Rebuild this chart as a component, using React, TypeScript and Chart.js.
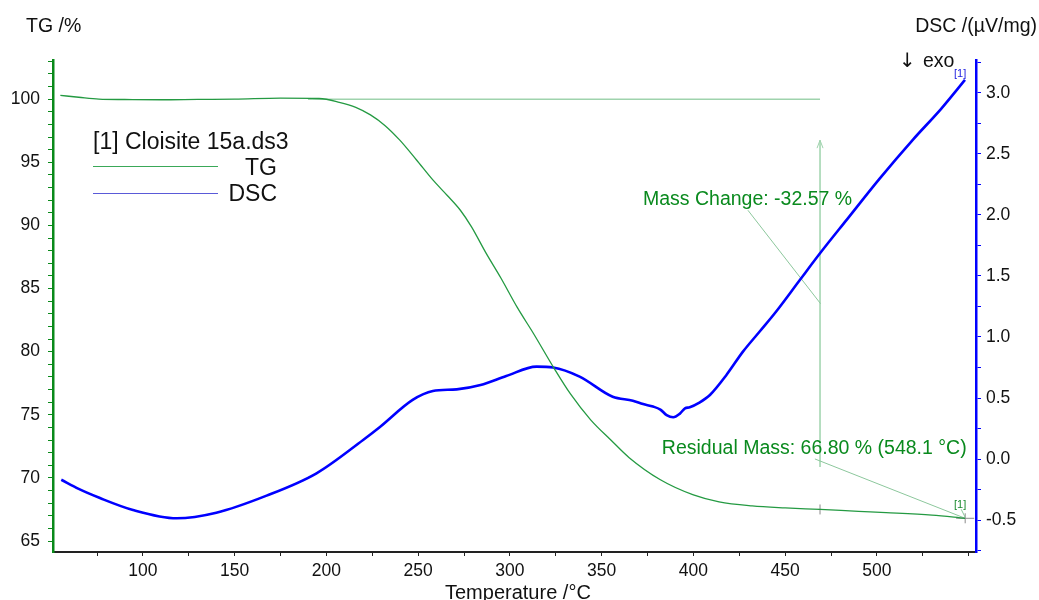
import React, { useEffect, useRef } from "react";
import { Chart, registerables } from "chart.js";

Chart.register(...registerables);

// ---------- data ----------
const TG_TEMP = [55, 65, 76, 90, 110, 130, 150, 175, 196, 207, 216, 224, 232, 240, 249, 258, 266, 273, 279, 287, 295, 304, 313, 324, 333, 344, 355, 365, 382, 400, 414, 432, 450, 469, 490, 505, 530, 548];
const TG_MASS = [100.3, 100.15, 100.0, 99.97, 99.95, 99.98, 100.0, 100.08, 100.05, 99.75, 99.35, 98.75, 97.9, 96.75, 95.2, 93.6, 92.35, 91.2, 89.9, 87.8, 85.85, 83.5, 81.4, 78.7, 76.65, 74.6, 73.0, 71.6, 69.85, 68.65, 68.1, 67.78, 67.62, 67.5, 67.35, 67.25, 67.05, 66.8];

const DSC_TEMP = [55.5, 65, 76.6, 94.6, 118.4, 140, 167.4, 194.6, 220, 229, 247, 258, 271, 284, 298, 314.5, 323.6, 338, 356, 367, 372.6, 378, 382, 385.4, 389, 392.5, 395.4, 398, 403, 409, 418, 427, 436, 445, 458, 469, 483.5, 501.6, 519.8, 535, 548];
const DSC_SIGNAL = [-0.17, -0.245, -0.32, -0.418, -0.486, -0.44, -0.3, -0.117, 0.156, 0.26, 0.484, 0.557, 0.571, 0.607, 0.68, 0.757, 0.75, 0.675, 0.51, 0.478, 0.45, 0.43, 0.405, 0.36, 0.342, 0.37, 0.415, 0.424, 0.46, 0.525, 0.689, 0.88, 1.043, 1.207, 1.467, 1.686, 1.96, 2.3, 2.62, 2.87, 3.107];

const X_LABEL_TICKS = [100, 150, 200, 250, 300, 350, 400, 450, 500];
const TG_LABEL_TICKS = [65, 70, 75, 80, 85, 90, 95, 100];
const DSC_LABEL_TICKS = [-0.5, 0, 0.5, 1, 1.5, 2, 2.5, 3];

const X_MINOR_STEP = 25;
const TG_MINOR_STEP = 1;
const DSC_MINOR_STEP = 0.25;

const X_RANGE = [51, 554];
const TG_RANGE = [64.13, 103.1];
const DSC_RANGE = [-0.762, 3.27];

// annotation values
const MASS_CHANGE_TEXT = "Mass Change: -32.57 %";
const RESIDUAL_TEXT = "Residual Mass: 66.80 % (548.1 °C)";
const STEP_TEMP = 469;
const MASS_BASE = 100;
const MASS_AT_STEP = 67.5;
const BASE_LINE_FROM = 190;
const ARROW_FROM = 70.86;
const ARROW_TO = 96.75;
const MC_LEADER = [429.7, 91.2, 469.3, 83.8];
const MC_LABEL_POS = [372.5, 91.6];
const RESIDUAL_TEMP = 548.1;
const RESIDUAL_MASS = 66.8;
const RM_LEADER = [466.2, 71.5];
const RM_LABEL_POS = [382.8, 71.87];

const FONT = 'Arial, "Liberation Sans", sans-serif';
const GREEN_AXIS = "#0a8a1a";
const TG_COLOR = "#249a42";
const DSC_COLOR = "#0000ff";
const ANNOT_LINE = "#9fd3ad";
const ANNOT_TEXT = "#0a8a1e";

function range(min: number, max: number, step: number) {
  const out: number[] = [];
  const start = Math.ceil(min / step - 1e-9) * step;
  for (let v = start; v <= max + 1e-9; v += step) out.push(Math.round(v * 1000) / 1000);
  return out;
}

function isIn(list: number[], v: number) {
  return list.some((l) => Math.abs(l - v) < 1e-6);
}

const overlayPlugin = {
  id: "overlay",
  beforeDatasetsDraw(chart: any) {
    const ctx = chart.ctx as CanvasRenderingContext2D;
    const x = chart.scales.x;
    const y = chart.scales.y;
    const px = (v: number) => x.getPixelForValue(v);
    const py = (v: number) => y.getPixelForValue(v);
    ctx.save();
    // baseline at 100 %
    ctx.strokeStyle = ANNOT_LINE;
    ctx.lineWidth = 1.5;
    ctx.beginPath();
    ctx.moveTo(px(BASE_LINE_FROM), py(MASS_BASE));
    ctx.lineTo(px(STEP_TEMP), py(MASS_BASE));
    ctx.stroke();
    // vertical arrow
    const ax = px(STEP_TEMP);
    ctx.beginPath();
    ctx.moveTo(ax, py(ARROW_FROM));
    ctx.lineTo(ax, py(ARROW_TO));
    ctx.stroke();
    ctx.lineWidth = 1;
    ctx.beginPath();
    ctx.moveTo(ax - 3, py(ARROW_TO) + 8);
    ctx.lineTo(ax, py(ARROW_TO));
    ctx.lineTo(ax + 3, py(ARROW_TO) + 8);
    ctx.stroke();
    // leaders
    ctx.strokeStyle = "#8cc79c";
    ctx.lineWidth = 1;
    ctx.beginPath();
    ctx.moveTo(px(MC_LEADER[0]), py(MC_LEADER[1]));
    ctx.lineTo(px(MC_LEADER[2]), py(MC_LEADER[3]));
    ctx.moveTo(px(RM_LEADER[0]), py(RM_LEADER[1]));
    ctx.lineTo(px(RESIDUAL_TEMP), py(RESIDUAL_MASS));
    ctx.stroke();
    // crosses
    ctx.strokeStyle = "#8a8a8a";
    ctx.lineWidth = 1;
    const sx = px(STEP_TEMP), sy = py(MASS_AT_STEP);
    const rx = px(RESIDUAL_TEMP), ry = py(RESIDUAL_MASS);
    ctx.beginPath();
    ctx.moveTo(sx, sy - 5);
    ctx.lineTo(sx, sy + 5);
    ctx.moveTo(sx - 2, sy);
    ctx.lineTo(sx + 2, sy);
    ctx.moveTo(rx, ry - 5);
    ctx.lineTo(rx, ry + 5);
    ctx.moveTo(rx - 9, ry);
    ctx.lineTo(rx + 9, ry);
    ctx.stroke();
    // small [1] markers
    ctx.font = `11px ${FONT}`;
    ctx.textAlign = "center";
    ctx.textBaseline = "alphabetic";
    ctx.fillStyle = "#1a8a2e";
    ctx.fillText("[1]", rx - 5, ry - 10);
    ctx.strokeStyle = "#8cc79c";
    ctx.beginPath();
    ctx.moveTo(rx - 4, ry - 9);
    ctx.lineTo(rx, ry - 1);
    ctx.stroke();
    ctx.fillStyle = "#2020e0";
    ctx.fillText("[1]", rx - 5, chart.scales.y2.getPixelForValue(DSC_SIGNAL[DSC_SIGNAL.length - 1]) - 3);
    // annotation text
    ctx.font = `19.5px ${FONT}`;
    ctx.textAlign = "left";
    ctx.fillStyle = ANNOT_TEXT;
    ctx.fillText(MASS_CHANGE_TEXT, px(MC_LABEL_POS[0]), py(MC_LABEL_POS[1]));
    ctx.fillText(RESIDUAL_TEXT, px(RM_LABEL_POS[0]), py(RM_LABEL_POS[1]));
    ctx.restore();
  },
  afterDraw(chart: any) {
    const ctx = chart.ctx as CanvasRenderingContext2D;
    ctx.save();
    ctx.fillStyle = "#111";
    ctx.textBaseline = "alphabetic";
    ctx.font = `19.5px ${FONT}`;
    ctx.textAlign = "left";
    ctx.fillText("TG /%", 26, 32);
    ctx.textAlign = "right";
    ctx.fillText("DSC /(µV/mg)", 1037, 32);
    ctx.textAlign = "left";
    ctx.fillText("exo", 923, 67);
    ctx.font = `20px "DejaVu Sans", sans-serif`;
    ctx.fillText("↓", 899, 67);
    ctx.font = `20px ${FONT}`;
    ctx.fillText("Temperature /°C", 445, 599);
    // legend
    ctx.font = `23px ${FONT}`;
    ctx.fillText("[1] Cloisite 15a.ds3", 93, 149);
    ctx.textAlign = "right";
    ctx.fillText("TG", 277, 175);
    ctx.fillText("DSC", 277, 201);
    ctx.lineWidth = 1.2;
    ctx.strokeStyle = "#3aa858";
    ctx.beginPath();
    ctx.moveTo(93, 166.5);
    ctx.lineTo(218, 166.5);
    ctx.stroke();
    ctx.strokeStyle = "#5a5ad8";
    ctx.beginPath();
    ctx.moveTo(93, 193.5);
    ctx.lineTo(218, 193.5);
    ctx.stroke();
    ctx.restore();
  },
};

export default function App() {
  const ref = useRef<HTMLCanvasElement | null>(null);
  useEffect(() => {
    if (!ref.current) return;
    const tickFont = { family: FONT, size: 17.5 };
    const chart = new Chart(ref.current, {
      type: "line",
      data: {
        datasets: [
          {
            label: "TG",
            data: TG_TEMP.map((t, i) => ({ x: t, y: TG_MASS[i] })),
            borderColor: TG_COLOR,
            borderWidth: 1.3,
            pointRadius: 0,
            cubicInterpolationMode: "monotone",
            yAxisID: "y",
          },
          {
            label: "DSC",
            data: DSC_TEMP.map((t, i) => ({ x: t, y: DSC_SIGNAL[i] })),
            borderColor: DSC_COLOR,
            borderWidth: 2.6,
            pointRadius: 0,
            cubicInterpolationMode: "monotone",
            yAxisID: "y2",
          },
        ],
      },
      options: {
        responsive: false,
        animation: false,
        layout: { padding: { top: 60, left: 0, right: 0, bottom: 0 } },
        plugins: { legend: { display: false }, tooltip: { enabled: false } },
        scales: {
          x: {
            type: "linear",
            min: X_RANGE[0],
            max: X_RANGE[1],
            afterBuildTicks: (s: any) => {
              s.ticks = range(X_RANGE[0], X_RANGE[1], X_MINOR_STEP).map((v) => ({ value: v }));
            },
            afterFit: (s: any) => {
              s.height = 48;
            },
            border: { color: "#222", width: 2 },
            grid: { drawOnChartArea: false, drawTicks: true, tickLength: 4, tickColor: "#222" },
            ticks: {
              autoSkip: false,
              maxRotation: 0,
              minRotation: 0,
              padding: 5,
              color: "#111",
              font: tickFont,
              callback: (v: any) => (isIn(X_LABEL_TICKS, Number(v)) ? String(v) : ""),
            },
          },
          y: {
            type: "linear",
            position: "left",
            min: TG_RANGE[0],
            max: TG_RANGE[1],
            afterBuildTicks: (s: any) => {
              s.ticks = range(TG_RANGE[0], TG_RANGE[1], TG_MINOR_STEP).map((v) => ({ value: v }));
            },
            afterFit: (s: any) => {
              s.width = 53;
            },
            border: { color: GREEN_AXIS, width: 2.5 },
            grid: { drawOnChartArea: false, drawTicks: true, tickLength: 5, tickColor: GREEN_AXIS },
            ticks: {
              autoSkip: false,
              padding: 8,
              color: "#111",
              font: tickFont,
              callback: (v: any) => (isIn(TG_LABEL_TICKS, Number(v)) ? String(v) : ""),
            },
          },
          y2: {
            type: "linear",
            position: "right",
            min: DSC_RANGE[0],
            max: DSC_RANGE[1],
            afterBuildTicks: (s: any) => {
              s.ticks = range(DSC_RANGE[0], DSC_RANGE[1], DSC_MINOR_STEP).map((v) => ({ value: v }));
            },
            afterFit: (s: any) => {
              s.width = 63;
            },
            border: { color: DSC_COLOR, width: 2.5 },
            grid: { drawOnChartArea: false, drawTicks: true, tickLength: 5, tickColor: DSC_COLOR },
            ticks: {
              autoSkip: false,
              padding: 5,
              color: "#111",
              font: tickFont,
              callback: (v: any) => (isIn(DSC_LABEL_TICKS, Number(v)) ? Number(v).toFixed(1) : ""),
            },
          },
        },
      },
      plugins: [overlayPlugin],
    } as any);
    return () => chart.destroy();
  }, []);
  return (
    <div style={{ position: "absolute", left: 0, top: 0, width: 1039, height: 600, background: "#fff" }}>
      <canvas ref={ref} width={1039} height={600} style={{ display: "block" }} />
    </div>
  );
}
